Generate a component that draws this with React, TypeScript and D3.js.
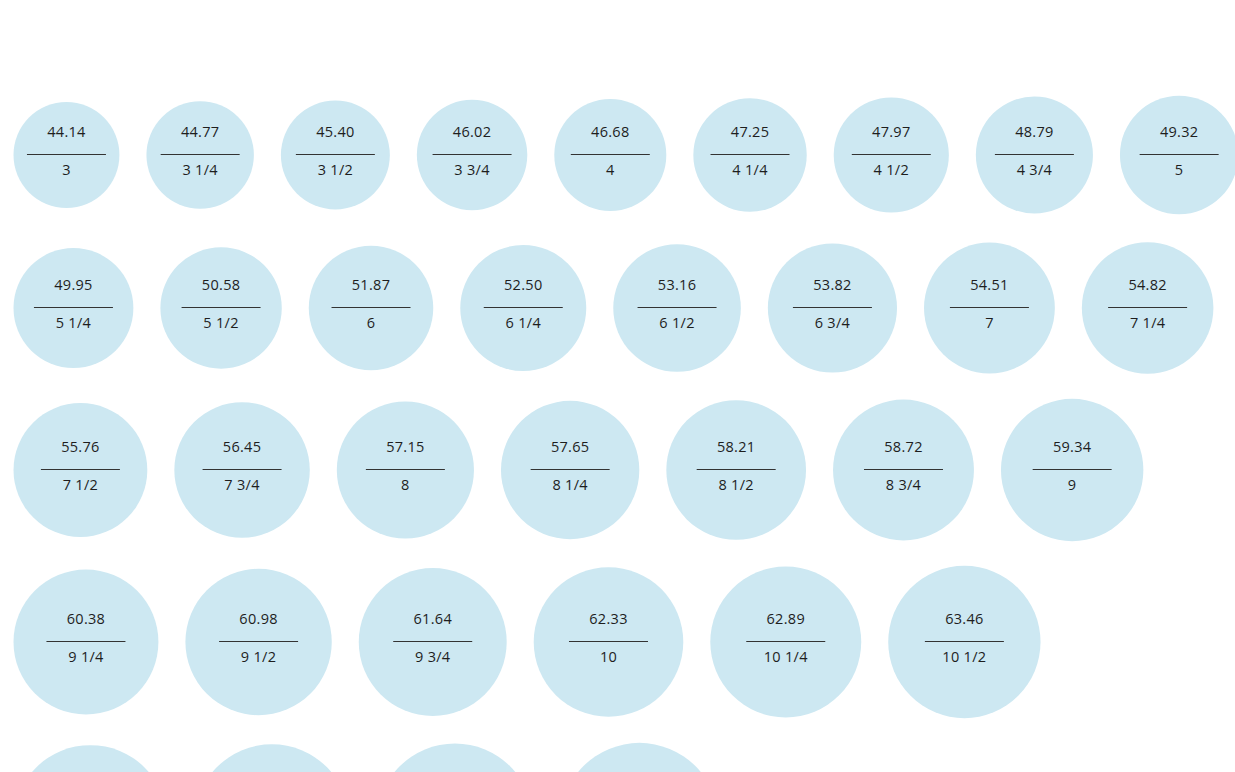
import React, { useEffect, useRef } from 'react';
import * as d3 from 'd3';

// circumference in mm and the matching ring size
const circumferences = [
  44.14, 44.77, 45.40, 46.02, 46.68, 47.25, 47.97, 48.79, 49.32,
  49.95, 50.58, 51.87, 52.50, 53.16, 53.82, 54.51, 54.82,
  55.76, 56.45, 57.15, 57.65, 58.21, 58.72, 59.34,
  60.38, 60.98, 61.64, 62.33, 62.89, 63.46,
  64.06, 64.70, 65.33, 65.94,
];
const sizes = [
  '3', '3 1/4', '3 1/2', '3 3/4', '4', '4 1/4', '4 1/2', '4 3/4', '5',
  '5 1/4', '5 1/2', '6', '6 1/4', '6 1/2', '6 3/4', '7', '7 1/4',
  '7 1/2', '7 3/4', '8', '8 1/4', '8 1/2', '8 3/4', '9',
  '9 1/4', '9 1/2', '9 3/4', '10', '10 1/4', '10 1/2',
  '10 3/4', '11', '11 1/4', '11 1/2',
];
const rowCounts = [9, 8, 7, 6, 4];

const W = 1235;
const H = 772;

const App = () => {
  const ref = useRef<SVGSVGElement>(null);

  useEffect(() => {
    const svg = d3.select(ref.current);
    svg.selectAll('*').remove();

    const r = d3.scaleLinear().domain([0, 100]).range([0, 120]);
    const gap = 27;
    const vgap = 25;
    const left = 13.5;

    const items: { c: number; s: string; x: number; y: number; rad: number }[] = [];
    let idx = 0;
    let cy = 0;
    let prevMax = 0;
    rowCounts.forEach((n, ri) => {
      const row = circumferences.slice(idx, idx + n);
      const maxR = d3.max(row, (v) => r(v)) as number;
      cy = ri === 0 ? 155 : Math.round(cy + prevMax + maxR + vgap + (ri === 1 ? 3 : 0));
      let x = left;
      row.forEach((v, j) => {
        const rad = r(v);
        items.push({ c: v, s: sizes[idx + j], x: x + rad, y: cy, rad });
        x += rad * 2 + gap;
      });
      prevMax = maxR;
      idx += n;
    });

    const g = svg.selectAll('g.ring')
      .data(items)
      .enter().append('g')
      .attr('class', 'ring')
      .attr('transform', (d) => `translate(${d.x},${d.y})`);

    g.append('circle')
      .attr('r', (d) => d.rad)
      .attr('fill', '#cde8f2');

    g.append('line')
      .attr('x1', -39.5)
      .attr('x2', 39.5)
      .attr('y1', -0.5)
      .attr('y2', -0.5)
      .attr('stroke', '#333')
      .attr('stroke-width', 1);

    // labels only where they fall inside the frame
    const lab = g.filter((d) => d.y - 30 < H);

    lab.append('text')
      .attr('y', -18)
      .attr('text-anchor', 'middle')
      .style('font', '14.5px "Open Sans", sans-serif')
      .style('letter-spacing', '0.3px')
      .style('fill', '#1e1e1e')
      .text((d) => d.c.toFixed(2));

    lab.append('text')
      .attr('y', 20)
      .attr('text-anchor', 'middle')
      .style('font', '14.5px "Open Sans", sans-serif')
      .style('letter-spacing', '0.3px')
      .style('fill', '#1e1e1e')
      .text((d) => d.s);
  }, []);

  return (
    <svg
      ref={ref}
      width={W}
      height={H}
      style={{ position: 'absolute', left: 0, top: 0, background: '#fff' }}
    />
  );
};

export default App;
